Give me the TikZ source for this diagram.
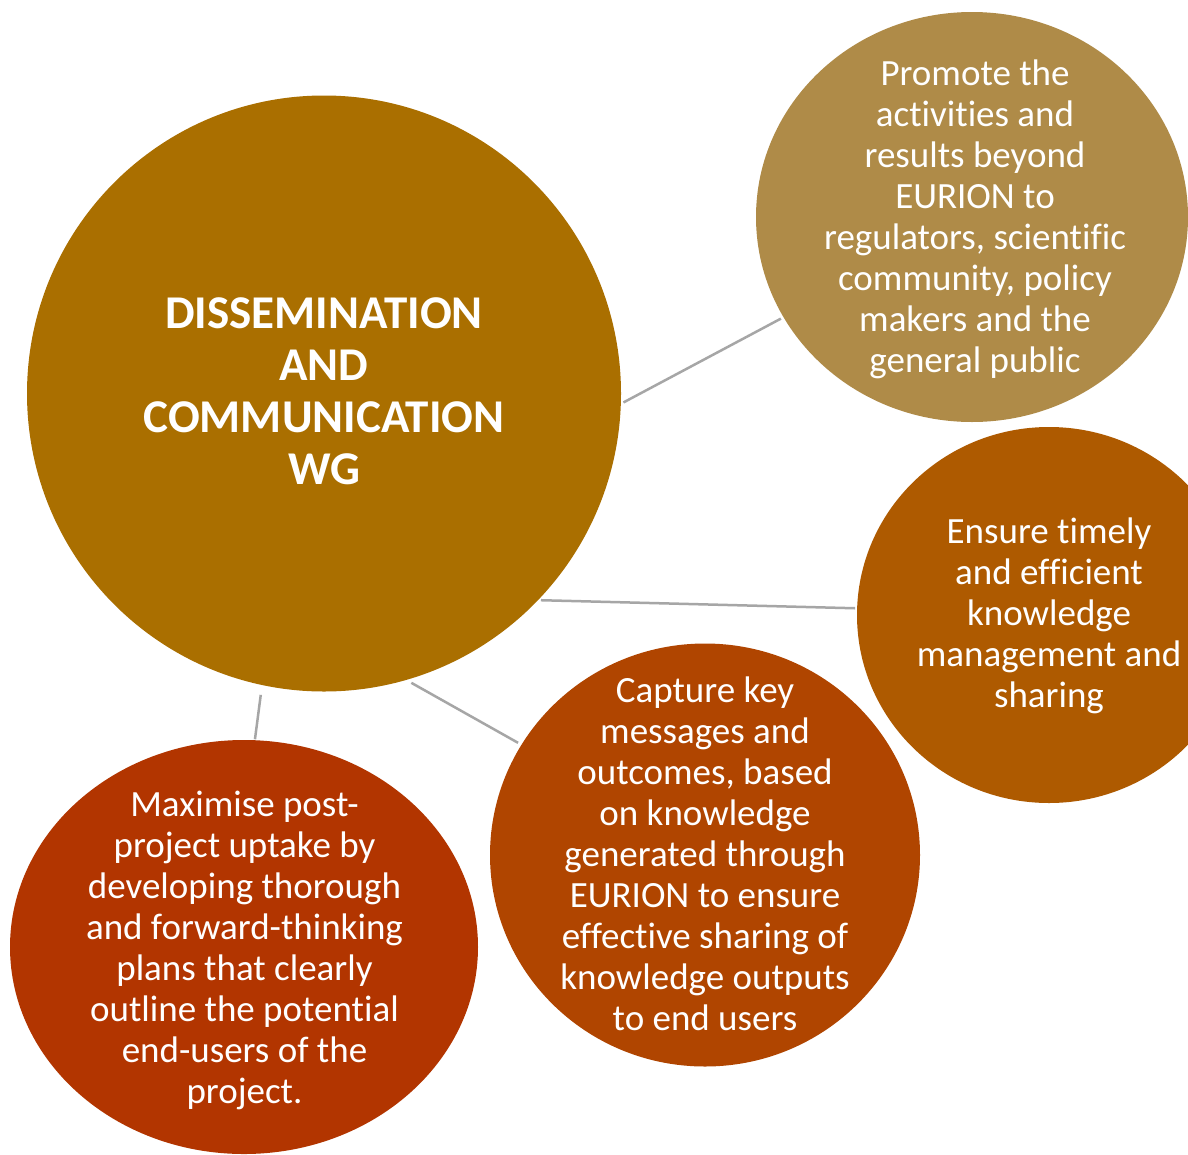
\documentclass[tikz,border=0pt]{standalone}
\usepackage{fontspec}
\setmainfont[Ligatures={NoCommon}]{Carlito}
\usetikzlibrary{shapes.geometric}
\definecolor{cmain}{HTML}{AA6F00}
\definecolor{ctr}{HTML}{AF8B48}
\definecolor{crm}{HTML}{AE5A00}
\definecolor{cbm}{HTML}{B04500}
\definecolor{cbl}{HTML}{B23500}
\definecolor{linegray}{HTML}{A6A6A6}
\begin{document}
\begin{tikzpicture}[x=1pt,y=-1pt,
  bubble/.style={ellipse,inner sep=0pt,outer sep=0pt,draw=none},
  btext/.style={text=white,align=center,font=\fontsize{37}{41}\selectfont,inner sep=0pt},
  ttext/.style={text=white,align=center,font=\fontsize{47}{52}\selectfont\bfseries,inner sep=0pt},
  link/.style={draw=linegray,line width=2.5pt}]
\useasboundingbox (0,0) rectangle (1188,1154);
\clip (0,0) rectangle (1188,1154);
\fill[white] (0,0) rectangle (1188,1154);
\node[bubble,fill=cmain,minimum width=594pt,minimum height=596pt] (main) at (324,393.5) {};
\node[bubble,fill=ctr,minimum width=432pt,minimum height=410pt] (tr) at (972,217) {};
\node[bubble,fill=crm,minimum width=384pt,minimum height=376pt] (rm) at (1049,615) {};
\node[bubble,fill=cbm,minimum width=430pt,minimum height=423pt] (bm) at (705,855) {};
\node[bubble,fill=cbl,minimum width=468pt,minimum height=414pt] (bl) at (244,947) {};

\node[ttext] (tmain) at (324,391) {DISSEMINATION\\AND\\COMMUNICATION\\WG};
\node[btext] (ttr) at (975,219) {Promote the\\activities and\\results beyond\\EURION to\\regulators, scientific\\community, policy\\makers and the\\general public};
\node[btext] (trm) at (1049,616) {Ensure timely\\and efficient\\knowledge\\management and\\sharing};
\node[btext] (tbm) at (705,854) {Capture key\\messages and\\outcomes, based\\on knowledge\\generated through\\EURION to ensure\\effective sharing of\\knowledge outputs\\to end users};
\node[btext] (tbl) at (244.5,950) {Maximise post-\\project uptake by\\developing thorough\\and forward-thinking\\plans that clearly\\outline the potential\\end-users of the\\project.};

\draw[link,shorten <=3pt,shorten >=3pt] (main.-2.2) -- (tr.208.7);
\draw[link,shorten <=3pt,shorten >=2pt] (main.-44.8) -- (rm.178.8);
\draw[link,shorten <=6pt,shorten >=4pt] (main.-74.1) -- (bm.149.7);
\draw[link,shorten <=10pt,shorten >=1pt] (main.-102.4) -- (bl.87);
\end{tikzpicture}
\end{document}
